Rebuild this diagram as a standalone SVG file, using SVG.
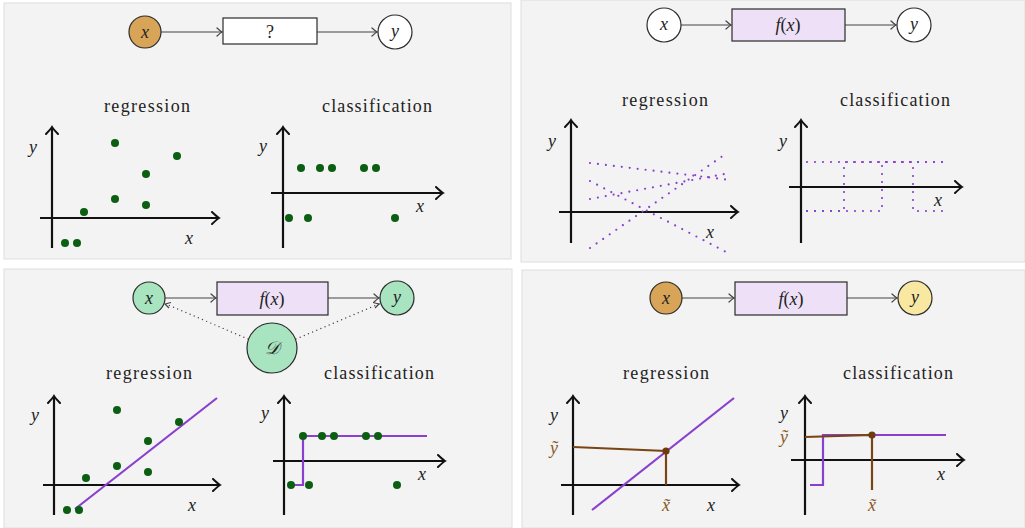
<svg xmlns="http://www.w3.org/2000/svg" width="1025" height="528" viewBox="0 0 1025 528">
<defs>
<style>
.panel{fill:#f3f3f3;stroke:#dedede;stroke-width:1}
.node{stroke:#2b2b2b;stroke-width:1.2}
.tan{fill:#d8a558}
.white{fill:#ffffff}
.mint{fill:#a8e4c0}
.yellow{fill:#f9e8a2}
.lav{fill:#eee0f6}
.conn{fill:none;stroke:#444;stroke-width:1.2}
.dconn{fill:none;stroke:#444;stroke-width:1.4;stroke-dasharray:0 4.5;stroke-linecap:round}
.axis{fill:none;stroke:#111;stroke-width:2.2}
.t{font-family:"Liberation Serif","DejaVu Serif",serif;font-size:18px;fill:#222;text-anchor:middle}
.m{font-family:"Liberation Serif","DejaVu Serif",serif;font-size:18px;font-style:italic;fill:#222;text-anchor:middle}
.mb{font-family:"Liberation Serif","DejaVu Serif",serif;font-size:18px;font-style:italic;fill:#8a5a25;text-anchor:middle}
.dot{fill:#0b5e12}
.fit{fill:none;stroke:#8a3fcf;stroke-width:2.2}
.dotted{fill:none;stroke:#8a3fcf;stroke-width:2.2;stroke-dasharray:0 8;stroke-linecap:round}
.brown{fill:none;stroke:#7a4515;stroke-width:2.2}
.bdot{fill:#6e3a10}
</style>
<marker id="ah" viewBox="-8 -7 10 14" refX="0" refY="0" markerWidth="10" markerHeight="14" markerUnits="userSpaceOnUse" orient="auto">
<path d="M-7,-6 Q-2,-1.2 0,0 Q-2,1.2 -7,6" fill="none" stroke="#111" stroke-width="2" stroke-linecap="round"/>
</marker>
<marker id="sa" viewBox="-6 -5 7 10" refX="0" refY="0" markerWidth="7" markerHeight="10" markerUnits="userSpaceOnUse" orient="auto">
<path d="M-5,-4 Q-1.5,-0.8 0,0 Q-1.5,0.8 -5,4" fill="none" stroke="#444" stroke-width="1.2" stroke-linecap="round"/>
</marker>
</defs>
<rect width="1025" height="528" fill="#ffffff"/>
<rect class="panel" x="4" y="3" width="507" height="256"/>
<rect class="panel" x="521" y="0" width="504" height="262"/>
<rect class="panel" x="4" y="269" width="508" height="259"/>
<rect class="panel" x="522" y="270" width="503" height="258"/>

<g id="connectors">
<line class="conn" x1="161" y1="32" x2="222" y2="32" marker-end="url(#sa)"/>
<line class="conn" x1="317" y1="32" x2="377" y2="32" marker-end="url(#sa)"/>
<line class="conn" x1="681" y1="25" x2="731" y2="25" marker-end="url(#sa)"/>
<line class="conn" x1="845" y1="25" x2="896" y2="25" marker-end="url(#sa)"/>
<line class="conn" x1="165" y1="298" x2="216" y2="298" marker-end="url(#sa)"/>
<line class="conn" x1="328" y1="298" x2="379" y2="298" marker-end="url(#sa)"/>
<path class="dconn" d="M248,339 L166,304"/>
<path class="conn" d="M171,302.5 L165,304 L169,308" stroke-width="1"/>
<path class="dconn" d="M296,339 L379,304"/>
<path class="conn" d="M373,302.5 L379,304 L375,308" stroke-width="1"/>
<line class="conn" x1="682" y1="298" x2="734" y2="298" marker-end="url(#sa)"/>
<line class="conn" x1="847" y1="298" x2="897" y2="298" marker-end="url(#sa)"/>
</g>

<!-- Panel 1 -->
<g id="p1-x"><circle class="node tan" cx="145" cy="32" r="16"/><text class="m" x="145" y="38">x</text></g>
<g id="p1-box"><rect class="node white" x="223" y="18" width="94" height="26"/><text class="t" x="270" y="38">?</text></g>
<g id="p1-y"><circle class="node white" cx="395" cy="32" r="17"/><text class="m" x="395" y="37">y</text></g>
<g id="p1-reg">
<text class="t" x="147" y="112" textLength="86" lengthAdjust="spacing">regression</text>
<line class="axis" x1="52" y1="248" x2="52" y2="127" marker-end="url(#ah)"/>
<line class="axis" x1="40" y1="218" x2="219" y2="218" marker-end="url(#ah)"/>
<text class="m" x="33" y="153">y</text><text class="m" x="189" y="244">x</text>
<circle class="dot" cx="65" cy="243" r="4"/><circle class="dot" cx="77" cy="243" r="4"/>
<circle class="dot" cx="84" cy="212" r="4"/><circle class="dot" cx="115" cy="143" r="4"/>
<circle class="dot" cx="115" cy="199" r="4"/><circle class="dot" cx="146" cy="174" r="4"/>
<circle class="dot" cx="146" cy="205" r="4"/><circle class="dot" cx="177" cy="156" r="4"/>
</g>
<g id="p1-cls">
<text class="t" x="377" y="112" textLength="110" lengthAdjust="spacing">classification</text>
<line class="axis" x1="283" y1="248" x2="283" y2="127" marker-end="url(#ah)"/>
<line class="axis" x1="271" y1="193" x2="443" y2="193" marker-end="url(#ah)"/>
<text class="m" x="263" y="152">y</text><text class="m" x="420" y="212">x</text>
<circle class="dot" cx="301" cy="168" r="4"/><circle class="dot" cx="320" cy="168" r="4"/>
<circle class="dot" cx="332" cy="168" r="4"/><circle class="dot" cx="364" cy="168" r="4"/>
<circle class="dot" cx="376" cy="168" r="4"/>
<circle class="dot" cx="289" cy="218" r="4"/><circle class="dot" cx="308" cy="218" r="4"/>
<circle class="dot" cx="395" cy="218" r="4"/>
</g>

<!-- Panel 2 -->
<g id="p2-x"><circle class="node white" cx="664" cy="25" r="17"/><text class="m" x="664" y="30">x</text></g>
<g id="p2-box"><rect class="node lav" x="732" y="9" width="113" height="32"/><text class="t" x="788" y="31"><tspan font-style="italic">f</tspan>(<tspan font-style="italic">x</tspan>)</text></g>
<g id="p2-y"><circle class="node white" cx="914" cy="25" r="17"/><text class="m" x="914" y="30">y</text></g>
<g id="p2-reg">
<text class="t" x="665" y="106" textLength="86" lengthAdjust="spacing">regression</text>
<line class="axis" x1="571" y1="243" x2="571" y2="120" marker-end="url(#ah)"/>
<line class="axis" x1="559" y1="212" x2="738" y2="212" marker-end="url(#ah)"/>
<text class="m" x="552" y="147">y</text><text class="m" x="710" y="238">x</text>
<path class="dotted" d="M590,163 L730,180"/>
<path class="dotted" d="M590,181 L730,254"/>
<path class="dotted" d="M590,199 L730,173"/>
<path class="dotted" d="M590,248 L727,153"/>
</g>
<g id="p2-cls">
<text class="t" x="895" y="106" textLength="110" lengthAdjust="spacing">classification</text>
<line class="axis" x1="801" y1="243" x2="801" y2="120" marker-end="url(#ah)"/>
<line class="axis" x1="789" y1="187" x2="962" y2="187" marker-end="url(#ah)"/>
<text class="m" x="783" y="147">y</text><text class="m" x="938" y="206">x</text>
<path class="dotted" d="M807,211 L844,211 L844,162 L943,162"/>
<path class="dotted" d="M807,211 L882,211 L882,162 L943,162"/>
<path class="dotted" d="M807,162 L913,162 L913,211 L943,211"/>
</g>

<!-- Panel 3 -->
<g id="p3-x"><circle class="node mint" cx="149" cy="298" r="16"/><text class="m" x="149" y="304">x</text></g>
<g id="p3-box"><rect class="node lav" x="217" y="282" width="111" height="33"/><text class="t" x="272" y="305"><tspan font-style="italic">f</tspan>(<tspan font-style="italic">x</tspan>)</text></g>
<g id="p3-y"><circle class="node mint" cx="397" cy="298" r="17"/><text class="m" x="397" y="303">y</text></g>
<g id="p3-D"><circle class="node mint" cx="272" cy="348" r="25"/><text class="m" x="272" y="354" font-family="'DejaVu Sans','Noto Sans',serif">𝒟</text></g>
<g id="p3-reg">
<text class="t" x="149" y="379" textLength="86" lengthAdjust="spacing">regression</text>
<line class="axis" x1="54" y1="515" x2="54" y2="396" marker-end="url(#ah)"/>
<line class="axis" x1="43" y1="485" x2="220" y2="485" marker-end="url(#ah)"/>
<text class="m" x="35" y="421">y</text><text class="m" x="192" y="511">x</text>
<line class="fit" x1="75" y1="509" x2="217" y2="398"/>
<circle class="dot" cx="67" cy="510" r="4"/><circle class="dot" cx="79" cy="510" r="4"/>
<circle class="dot" cx="86" cy="478" r="4"/><circle class="dot" cx="117" cy="410" r="4"/>
<circle class="dot" cx="117" cy="466" r="4"/><circle class="dot" cx="148" cy="441" r="4"/>
<circle class="dot" cx="148" cy="472" r="4"/><circle class="dot" cx="179" cy="422" r="4"/>
</g>
<g id="p3-cls">
<text class="t" x="379" y="379" textLength="110" lengthAdjust="spacing">classification</text>
<line class="axis" x1="284" y1="515" x2="284" y2="396" marker-end="url(#ah)"/>
<line class="axis" x1="273" y1="461" x2="445" y2="461" marker-end="url(#ah)"/>
<text class="m" x="265" y="419">y</text><text class="m" x="422" y="480">x</text>
<path class="fit" d="M291,485 L303,485 L303,436 L427,436"/>
<circle class="dot" cx="303" cy="436" r="4"/><circle class="dot" cx="322" cy="436" r="4"/>
<circle class="dot" cx="334" cy="436" r="4"/><circle class="dot" cx="366" cy="436" r="4"/>
<circle class="dot" cx="378" cy="436" r="4"/>
<circle class="dot" cx="291" cy="485" r="4"/><circle class="dot" cx="309" cy="485" r="4"/>
<circle class="dot" cx="397" cy="485" r="4"/>
</g>

<!-- Panel 4 -->
<g id="p4-x"><circle class="node tan" cx="666" cy="298" r="16"/><text class="m" x="666" y="304">x</text></g>
<g id="p4-box"><rect class="node lav" x="735" y="282" width="112" height="33"/><text class="t" x="791" y="305"><tspan font-style="italic">f</tspan>(<tspan font-style="italic">x</tspan>)</text></g>
<g id="p4-y"><circle class="node yellow" cx="915" cy="298" r="17"/><text class="m" x="915" y="303">y</text></g>
<g id="p4-reg">
<text class="t" x="666" y="379" textLength="86" lengthAdjust="spacing">regression</text>
<line class="axis" x1="573" y1="515" x2="573" y2="396" marker-end="url(#ah)"/>
<line class="axis" x1="561" y1="485" x2="739" y2="485" marker-end="url(#ah)"/>
<text class="m" x="554" y="421">y</text><text class="m" x="711" y="511">x</text>
<text class="mb" x="554" y="454">ỹ</text><text class="mb" x="666" y="511">x̃</text>
<line class="fit" x1="592" y1="510" x2="734" y2="398"/>
<path class="brown" d="M573,447 L666,451 L666,485"/>
<circle class="bdot" cx="666" cy="451" r="3.6"/>
</g>
<g id="p4-cls">
<text class="t" x="898" y="379" textLength="110" lengthAdjust="spacing">classification</text>
<line class="axis" x1="805" y1="515" x2="805" y2="396" marker-end="url(#ah)"/>
<line class="axis" x1="791" y1="460" x2="964" y2="460" marker-end="url(#ah)"/>
<text class="m" x="784" y="419">y</text><text class="m" x="941" y="480">x</text>
<text class="mb" x="784" y="443">ỹ</text><text class="mb" x="872" y="511">x̃</text>
<path class="fit" d="M810,485 L823,485 L823,435 L946,435"/>
<path class="brown" d="M805,437 L872,435 L872,490"/>
<circle class="bdot" cx="872" cy="435" r="3.6"/>
</g>
</svg>
